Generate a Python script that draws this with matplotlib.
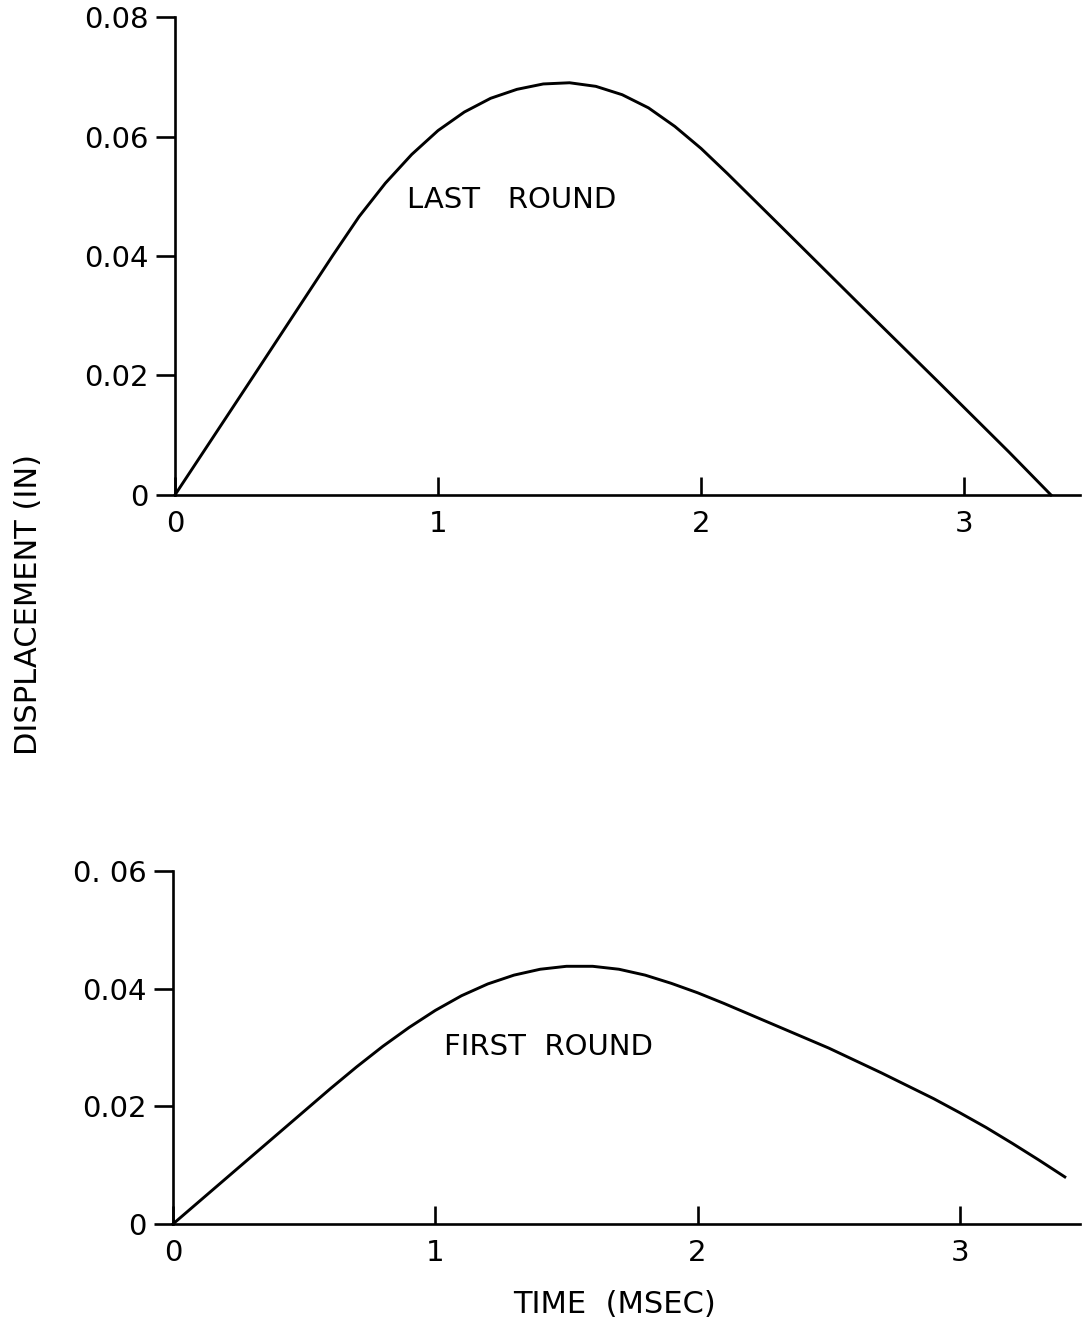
import matplotlib.pyplot as plt

# last round (upper panel)
t_last = [0.0, 0.3, 0.6, 0.7, 0.8, 0.9, 1.0, 1.1, 1.2, 1.3, 1.4, 1.5,
          1.6, 1.7, 1.8, 1.9, 2.0, 2.1, 2.3, 2.6, 2.9, 3.17, 3.33]
d_last = [0.0, 0.0200, 0.0401, 0.0466, 0.0522, 0.0570, 0.0610, 0.0641, 0.0664,
          0.0679, 0.0688, 0.0690, 0.0684, 0.0670, 0.0648, 0.0617, 0.0580,
          0.0538, 0.0451, 0.0320, 0.0190, 0.0072, 0.0]

# first round (lower panel)
t_first = [0.0, 0.3, 0.6, 0.7, 0.8, 0.9, 1.0, 1.1, 1.2, 1.3, 1.4, 1.5, 1.6,
           1.7, 1.8, 1.9, 2.0, 2.1, 2.2, 2.3, 2.5, 2.7, 2.9, 3.0, 3.1, 3.2,
           3.3, 3.4]
d_first = [0.0, 0.0115, 0.0230, 0.0267, 0.0302, 0.0334, 0.0363, 0.0388, 0.0408,
           0.0423, 0.0433, 0.0438, 0.0438, 0.0433, 0.0423, 0.0409, 0.0393,
           0.0375, 0.0356, 0.0337, 0.0299, 0.0257, 0.0213, 0.0189, 0.0164,
           0.0137, 0.0109, 0.0080]

x_ticks = [0, 1, 2, 3]
x_labels = ["0", "1", "2", "3"]
y_ticks_last = [0, 0.02, 0.04, 0.06, 0.08]
y_labels_last = ["0", "0.02", "0.04", "0.06", "0.08"]
y_ticks_first = [0, 0.02, 0.04, 0.06]
y_labels_first = ["0", "0.02", "0.04", "0. 06"]

plt.rcParams['font.family'] = ['DejaVu Sans']

fig = plt.figure(figsize=(10.86, 13.32), dpi=100)
ax1 = fig.add_axes([0.1611, 0.6284, 0.8333, 0.3588])
ax2 = fig.add_axes([0.1593, 0.0811, 0.8352, 0.2650])


def style(ax, xmax, ymax, yticks, ylabels):
    ax.set_xlim(0, xmax)
    ax.set_ylim(0, ymax)
    ax.spines['top'].set_visible(False)
    ax.spines['right'].set_visible(False)
    ax.spines['left'].set_linewidth(1.9)
    ax.spines['bottom'].set_linewidth(1.9)
    ax.set_xticks(x_ticks)
    ax.set_xticklabels(x_labels)
    ax.set_yticks(yticks)
    ax.set_yticklabels(ylabels)
    ax.tick_params(axis='x', direction='in', length=13, width=1.9,
                   labelsize=21, pad=11)
    ax.tick_params(axis='y', direction='out', length=14, width=1.9,
                   labelsize=21, pad=5)
    ax.patch.set_alpha(0)


ax1.plot(t_last, d_last, color='black', lw=2.1, clip_on=False,
         solid_joinstyle='round')
style(ax1, 3.44, 0.08, y_ticks_last, y_labels_last)
ax1.text(1.28, 0.0494, "LAST   ROUND", fontsize=21, ha='center', va='center')

ax2.plot(t_first, d_first, color='black', lw=2.1, clip_on=False,
         solid_joinstyle='round')
style(ax2, 3.458, 0.06, y_ticks_first, y_labels_first)
ax2.text(1.43, 0.0301, "FIRST  ROUND", fontsize=21, ha='center', va='center')

fig.text(0.566, 0.0203, "TIME  (MSEC)", fontsize=22, ha='center', va='center')
fig.text(0.026, 0.546, "DISPLACEMENT (IN)", fontsize=22, rotation=90,
         ha='center', va='center')

fig.savefig("out.png", dpi=100)
